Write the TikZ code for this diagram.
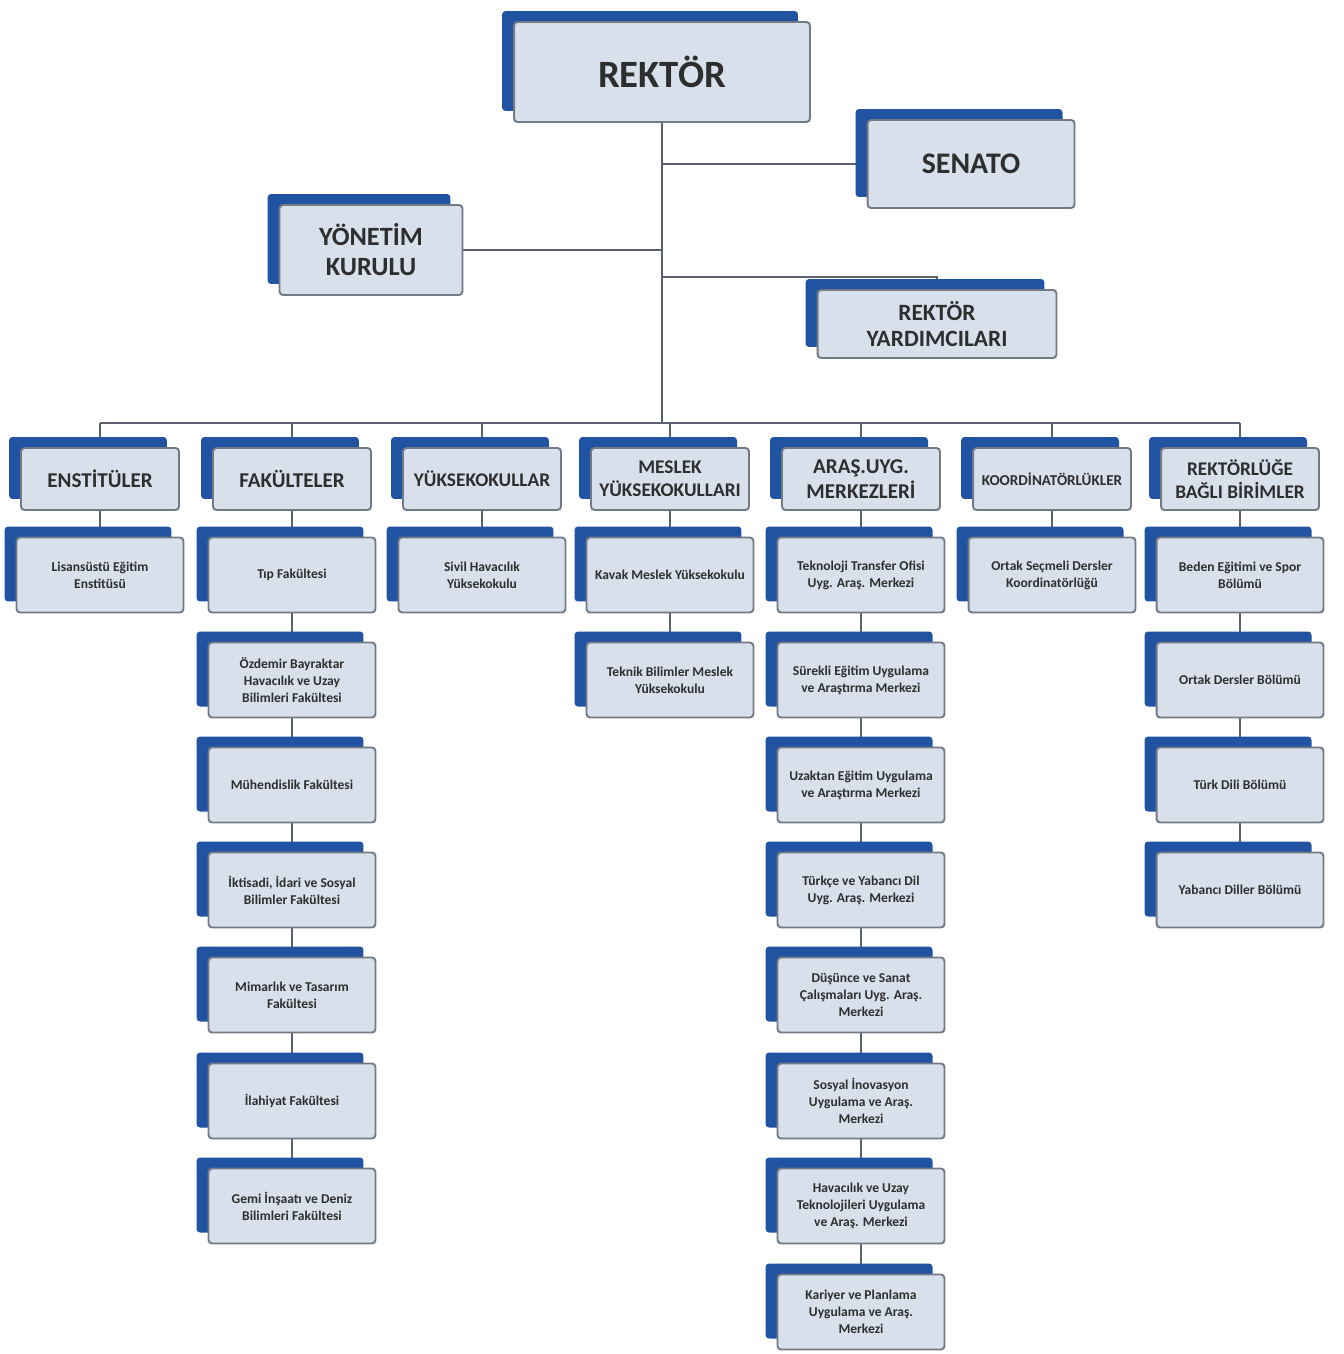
\documentclass[tikz,border=0pt]{standalone}
\usepackage{fontspec}
\setmainfont{Carlito}
\usepackage{xcolor}
\usetikzlibrary{shadows,backgrounds}

\definecolor{boxfill}{HTML}{D8E0EC}
\definecolor{boxline}{HTML}{737985}
\definecolor{boxblue}{HTML}{2153A3}
\definecolor{linkline}{HTML}{5B6170}
\definecolor{txt}{HTML}{2E2E2E}

\begin{document}
\begin{tikzpicture}[
            x = 0.02cm, y = -0.02cm, % one unit = one pixel, y downwards
            box/.style = {draw=boxline, fill=boxfill, line width=1.1pt,
                          rounded corners=2pt, align=center, text=txt, inner sep=2pt,
                          general shadow={fill=boxblue, shadow xshift=-0.24cm, shadow yshift=0.22cm}},
            head/.style = {box, minimum width=3.16cm, minimum height=1.24cm,
                           font=\bfseries\fontsize{12}{14}\selectfont},
            unit/.style = {box, minimum width=3.34cm, minimum height=1.5cm,
                           font=\bfseries\fontsize{7.7}{9.7}\selectfont},
            link/.style = {draw=linkline, line width=1.1pt} % connector lines
        ]
\useasboundingbox (0,0) rectangle (1343,1354);

% top level
\node[box, minimum width=5.92cm, minimum height=2cm, font=\bfseries\fontsize{22}{26}\selectfont] (R) at (662,72) {REKTÖR};
\node[box, minimum width=4.14cm, minimum height=1.76cm, font=\bfseries\fontsize{17}{20}\selectfont] (S) at (971,164) {SENATO};
\node[box, minimum width=3.66cm, minimum height=1.8cm, font=\bfseries\fontsize{15}{17}\selectfont] (Y) at (371,250) {YÖNETİM\\KURULU};
\node[box, minimum width=4.78cm, minimum height=1.36cm, font=\bfseries\fontsize{13.3}{15}\selectfont] (RY) at (937,324) {REKTÖR\\YARDIMCILARI};

% headers
\node[head] (E) at (100,479) {ENSTİTÜLER};
\node[head] (F) at (292,479) {FAKÜLTELER};
\node[head, font=\bfseries\fontsize{11}{13}\selectfont] (YO) at (482,479) {YÜKSEKOKULLAR};
\node[head, font=\bfseries\fontsize{11}{13}\selectfont] (M) at (670,479) {MESLEK\\YÜKSEKOKULLARI};
\node[head] (A) at (861,479) {ARAŞ.UYG.\\MERKEZLERİ};
\node[head, font=\bfseries\fontsize{8.6}{10}\selectfont] (K) at (1052,479) {KOORDİNATÖRLÜKLER};
\node[head, font=\bfseries\fontsize{11}{13}\selectfont] (RB) at (1240,479) {REKTÖRLÜĞE\\BAĞLI BİRİMLER};

% enstituler
\node[unit] (E1) at (100,575) {Lisansüstü Eğitim\\Enstitüsü};

% fakulteler
\node[unit] (F1) at (292,575) {Tıp Fakültesi};
\node[unit] (F2) at (292,680) {Özdemir Bayraktar\\Havacılık ve Uzay\\Bilimleri Fakültesi};
\node[unit] (F3) at (292,785) {Mühendislik Fakültesi};
\node[unit] (F4) at (292,890) {İktisadi, İdari ve Sosyal\\Bilimler Fakültesi};
\node[unit] (F5) at (292,995) {Mimarlık ve Tasarım\\Fakültesi};
\node[unit] (F6) at (292,1101) {İlahiyat Fakültesi};
\node[unit] (F7) at (292,1206) {Gemi İnşaatı ve Deniz\\Bilimleri Fakültesi};

% yuksekokullar
\node[unit] (YO1) at (482,575) {Sivil Havacılık\\Yüksekokulu};

% meslek yuksekokullari
\node[unit] (M1) at (670,575) {Kavak Meslek Yüksekokulu};
\node[unit] (M2) at (670,680) {Teknik Bilimler Meslek\\Yüksekokulu};

% arastirma merkezleri
\node[unit] (A1) at (861,575) {Teknoloji Transfer Ofisi\\Uyg. Araş. Merkezi};
\node[unit] (A2) at (861,680) {Sürekli Eğitim Uygulama\\ve Araştırma Merkezi};
\node[unit] (A3) at (861,785) {Uzaktan Eğitim Uygulama\\ve Araştırma Merkezi};
\node[unit] (A4) at (861,890) {Türkçe ve Yabancı Dil\\Uyg. Araş. Merkezi};
\node[unit] (A5) at (861,995) {Düşünce ve Sanat\\Çalışmaları Uyg. Araş.\\Merkezi};
\node[unit] (A6) at (861,1101) {Sosyal İnovasyon\\Uygulama ve Araş.\\Merkezi};
\node[unit] (A7) at (861,1206) {Havacılık ve Uzay\\Teknolojileri Uygulama\\ve Araş. Merkezi};
\node[unit] (A8) at (861,1312) {Kariyer ve Planlama\\Uygulama ve Araş.\\Merkezi};

% koordinatorlukler
\node[unit] (K1) at (1052,575) {Ortak Seçmeli Dersler\\Koordinatörlüğü};

% rektorluge bagli birimler
\node[unit] (RB1) at (1240,575) {Beden Eğitimi ve Spor\\Bölümü};
\node[unit] (RB2) at (1240,680) {Ortak Dersler Bölümü};
\node[unit] (RB3) at (1240,785) {Türk Dili Bölümü};
\node[unit] (RB4) at (1240,890) {Yabancı Diller Bölümü};

\coordinate (bus) at (662,423);
\coordinate (RYj) at (662,277);

\begin{scope}[on background layer]
 \path [link] (R.south) edge (bus);
 \path [link] (S.west) edge (S.west -| R.south);
 \path [link] (Y.east) edge (Y.east -| R.south);
 \draw [link] (RYj) -| (RY.north);
 \draw [link] (E |- bus) -- (RB |- bus);
 \path [link] (E |- bus) edge (E.north);
 \path [link] (F |- bus) edge (F.north);
 \path [link] (YO |- bus) edge (YO.north);
 \path [link] (M |- bus) edge (M.north);
 \path [link] (A |- bus) edge (A.north);
 \path [link] (K |- bus) edge (K.north);
 \path [link] (RB |- bus) edge (RB.north);

 \path [link] (E) edge (E1);
 \path [link] (F) edge (F1) (F1) edge (F2) (F2) edge (F3) (F3) edge (F4)
              (F4) edge (F5) (F5) edge (F6) (F6) edge (F7);
 \path [link] (YO) edge (YO1);
 \path [link] (M) edge (M1) (M1) edge (M2);
 \path [link] (A) edge (A1) (A1) edge (A2) (A2) edge (A3) (A3) edge (A4)
              (A4) edge (A5) (A5) edge (A6) (A6) edge (A7) (A7) edge (A8);
 \path [link] (K) edge (K1);
 \path [link] (RB) edge (RB1) (RB1) edge (RB2) (RB2) edge (RB3) (RB3) edge (RB4);
\end{scope}
\end{tikzpicture}
\end{document}
